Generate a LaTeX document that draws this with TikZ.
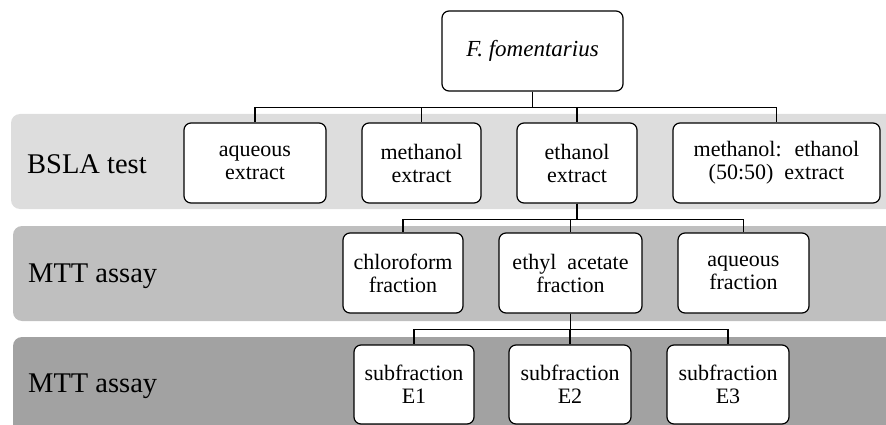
\documentclass[tikz,border=0pt]{standalone}
\usepackage{fontspec}
\setmainfont{Liberation Serif}
\usepackage{xcolor}
\usetikzlibrary{positioning}
\definecolor{bandA}{RGB}{221,221,221}
\definecolor{bandB}{RGB}{191,191,191}
\definecolor{bandC}{RGB}{162,162,162}

\begin{document}
\begin{tikzpicture}[x=1pt, y=-1pt,
        every node/.style={align=center, inner sep=0pt},
        box/.style={draw, line width=1.2pt, rounded corners=7pt, fill=white,
            minimum width=#1, minimum height=80pt, font=\fontsize{22}{23}\selectfont},
        band/.style={fill=#1, rounded corners=9pt},
        tag/.style={anchor=west, font=\fontsize{28.5}{30}\selectfont},
        link/.style={line width=1.6pt}]
    \useasboundingbox (0,0) rectangle (886,425);

    % grey bands behind the rows
    \fill[band=bandA] (11,114) rectangle (905,209);
    \fill[band=bandB] (13,226) rectangle (905,321);
    \fill[band=bandC] (13,337) rectangle (905,450);

    \node[tag] (t1) at (27,164) {BSLA test};
    \node[tag] (t2) at (28,276) {MTT assay};
    \node[tag] (t3) at (28,386) {MTT assay};

    % root
    \node[box=181pt, font=\fontsize{23}{24}\selectfont\itshape] (root) at (532.5,51) {F. fomentarius};

    % extracts
    \node[box=142pt] (aqx) at (255,163)   {aqueous\\extract};
    \node[box=119pt] (mex) at (421.5,163) {methanol\\extract};
    \node[box=120pt] (etx) at (577,163)   {ethanol\\extract};
    \node[box=207pt] (mix) at (776.5,163) {methanol:~ ethanol\\(50:50)~ extract};

    % fractions
    \node[box=120pt] (chl) at (403,273)   {chloroform\\fraction};
    \node[box=143pt] (eac) at (570.5,273) {ethyl~ acetate\\fraction};
    \node[box=131pt] (aqf) at (743.5,273) {aqueous\\fraction};

    % subfractions
    \node[box=120pt, minimum height=79pt] (sf1) at (414,384.5) {subfraction\\E1};
    \node[box=122pt, minimum height=79pt] (sf2) at (570,384.5) {subfraction\\E2};
    \node[box=122pt, minimum height=79pt] (sf3) at (728,384.5) {subfraction\\E3};

    % tree links
    \foreach \c in {aqx,mex,etx,mix}
        \draw[link] (root.south) -- ++(0,16) -| (\c.north);
    \foreach \c in {chl,eac,aqf}
        \draw[link] (etx.south) -- ++(0,16) -| (\c.north);
    \foreach \c in {sf1,sf2,sf3}
        \draw[link] (eac.south) -- ++(0,16) -| (\c.north);
\end{tikzpicture}
\end{document}
